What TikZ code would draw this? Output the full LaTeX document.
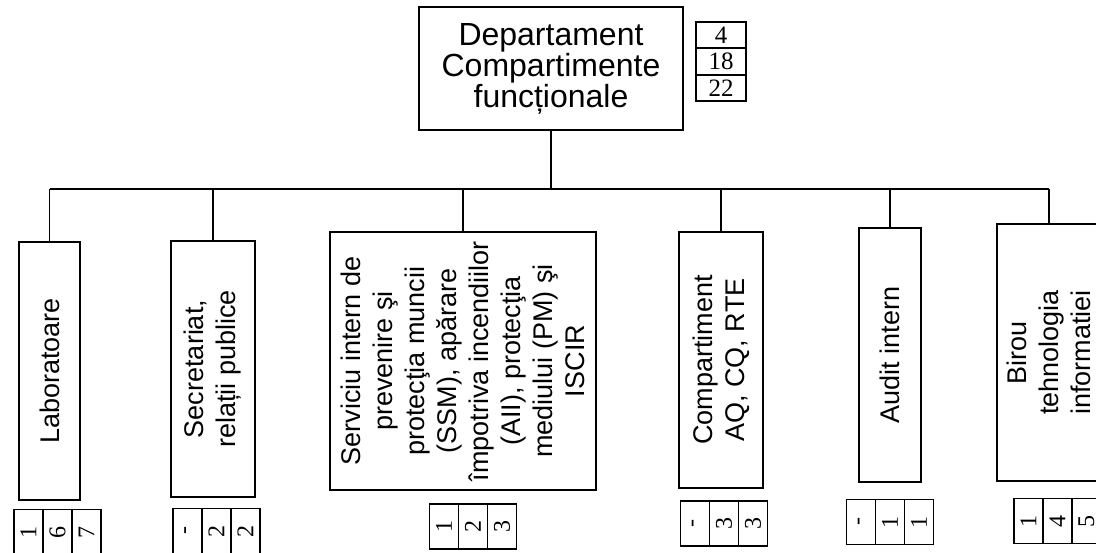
\documentclass[tikz,border=0pt]{standalone}
\usepackage{fontspec}
\setmainfont{Liberation Sans}
\newfontfamily\numfont{Liberation Serif}
\usepackage{graphicx}

\begin{document}
\begin{tikzpicture}[x=1pt,y=-1pt,line width=1.8pt,
    unit/.style={draw,rotate=90,align=center,inner sep=3pt,font=\fontsize{27}{32}\selectfont},
    cell/.style={draw,inner sep=0pt,minimum width=29pt,minimum height=45pt,font=\numfont\fontsize{24}{24}\selectfont},
    tcell/.style={draw,inner sep=0pt,minimum width=50pt,minimum height=26.5pt,font=\numfont\fontsize{25}{25}\selectfont}]
    \useasboundingbox (0,0) rectangle (1096,553);
    \clip (0,0) rectangle (1096,553);
    \node[draw,align=center,minimum width=264pt,minimum height=123pt,font=\fontsize{32}{31}\selectfont](dep) at (551,68.5){Departament\\Compartimente\\funcționale};
    \node[tcell](t1) at (721,35){4};
    \node[tcell](t2) at (721,61.5){18};
    \node[tcell](t3) at (721,88){22};
    \node[unit,minimum width=258pt,minimum height=61pt](lab) at (49.5,371){Laboratoare};
    \node[unit,minimum width=256pt,minimum height=84pt](sec) at (213,369){Secretariat,\\relații publice};
    \node[unit,minimum width=258pt,minimum height=266pt](serv) at (463,361){Serviciu intern de\\prevenire şi\\protecţia muncii\\(SSM), apărare\\împotriva incendiilor\\(AII), protecţia\\mediului (PM) şi\\ISCIR};
    \node[unit,minimum width=256pt,minimum height=84pt](comp) at (721,360){Compartiment\\AQ, CQ, RTE};
    \node[unit,minimum width=254pt,minimum height=62pt](aud) at (890,355){Audit intern};
    \node[unit,minimum width=257pt,minimum height=104pt](bir) at (1049,352.5){Birou\\tehnologia\\informatiei};
    \foreach \n/\x/\y/\a/\b/\c in {lab/57.5/532/1/6/7,sec/216.5/531/-/2/2,serv/473/526.5/1/2/3,comp/724/523.5/-/3/3,aud/890/522/-/1/1,bir/1057.5/521/1/4/5}{
      \node[cell](\n-a) at (\x-29,\y){\rotatebox{90}{\a}};
      \node[cell](\n-b) at (\x,\y){\rotatebox{90}{\b}};
      \node[cell](\n-c) at (\x+29,\y){\rotatebox{90}{\c}};
    }
    \coordinate(bus) at (548,189);
    \draw(dep.south)--(dep.south |- bus);
    \draw(lab.east |- bus)--(bir.east |- bus);
    \foreach \n in {lab,sec,serv,comp,aud,bir}
      \draw(\n.east |- bus)--(\n.east);
\end{tikzpicture}
\end{document}
